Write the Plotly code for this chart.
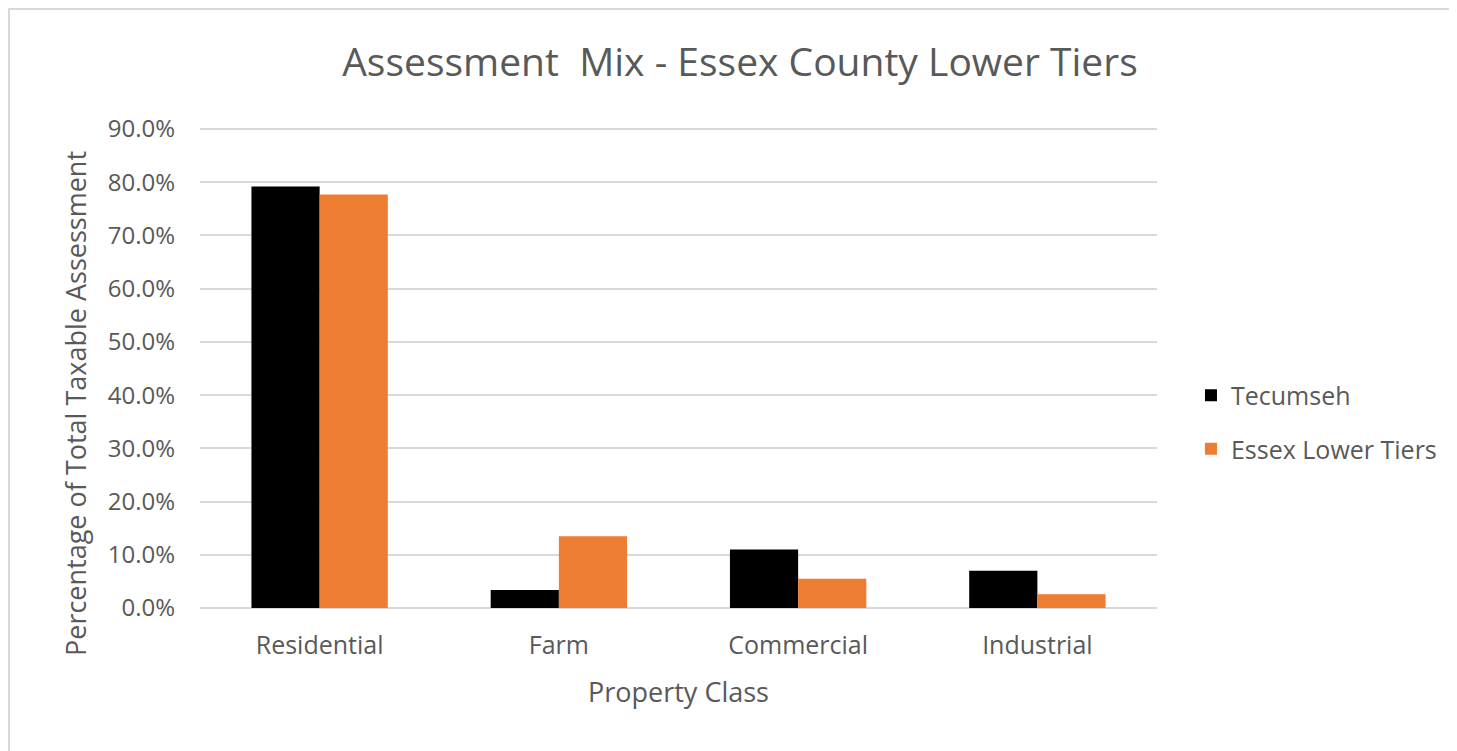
"""Assessment mix bar chart, Essex County lower tiers."""

import plotly.graph_objects as go

categories = ["Residential", "Farm", "Commercial", "Industrial"]
tecumseh = [0.792, 0.034, 0.110, 0.070]
essex_lower_tiers = [0.777, 0.135, 0.055, 0.026]
y_ticks = [0.0, 0.1, 0.2, 0.3, 0.4, 0.5, 0.6, 0.7, 0.8, 0.9]

FONT = "Open Sans"
GREY = "#595959"
GRID = "#d9d9d9"

fig = go.Figure()
fig.add_trace(
    go.Bar(
        x=categories,
        y=tecumseh,
        name="Tecumseh",
        marker=dict(color="#000000", line=dict(width=0)),
        legendgroup="a",
    )
)
fig.add_trace(
    go.Bar(
        x=categories,
        y=essex_lower_tiers,
        name="Essex Lower Tiers",
        marker=dict(color="#ed7d31", line=dict(width=0)),
        legendgroup="b",
    )
)

fig.add_annotation(
    text="Percentage of Total Taxable Assessment",
    xref="paper",
    yref="paper",
    x=-0.1306,
    y=0.425,
    xanchor="center",
    yanchor="middle",
    textangle=-90,
    showarrow=False,
    font=dict(family=FONT, size=27, color=GREY),
)

# chart frame like the spreadsheet export
fig.add_shape(
    type="rect",
    xref="paper",
    yref="paper",
    x0=-0.1996,
    x1=1.309,
    y0=-0.4,
    y1=1.248,
    line=dict(color="#d9d9d9", width=2),
    fillcolor="rgba(0,0,0,0)",
    layer="below",
)

fig.update_layout(
    width=1457,
    height=751,
    paper_bgcolor="white",
    plot_bgcolor="white",
    font=dict(family=FONT, color=GREY),
    title=dict(
        text="Assessment  Mix - Essex County Lower Tiers",
        font=dict(family=FONT, size=39, color=GREY),
        x=0.5024,
        xanchor="center",
        y=0.928,
        yanchor="middle",
    ),
    barmode="group",
    bargap=0.43,
    bargroupgap=0,
    margin=dict(l=192, r=308, t=120, b=151),
    xaxis=dict(
        title=dict(text="Property Class", font=dict(size=27, color=GREY), standoff=23),
        tickfont=dict(size=25, color=GREY),
        ticklabelstandoff=20,
        showline=False,
        showgrid=False,
    ),
    yaxis=dict(
        range=[0, 0.902],
        tickvals=y_ticks,
        tickformat=".1%",
        tickfont=dict(size=24, color=GREY),
        ticklabelstandoff=24,
        showgrid=True,
        gridcolor=GRID,
        gridwidth=1.5,
        zeroline=True,
        zerolinecolor=GRID,
        zerolinewidth=1.5,
    ),
    legend=dict(
        x=1.0355,
        y=0.3875,
        xanchor="left",
        yanchor="middle",
        font=dict(size=25, color=GREY),
        tracegroupgap=18,
    ),
)

fig.write_html("out.html")
